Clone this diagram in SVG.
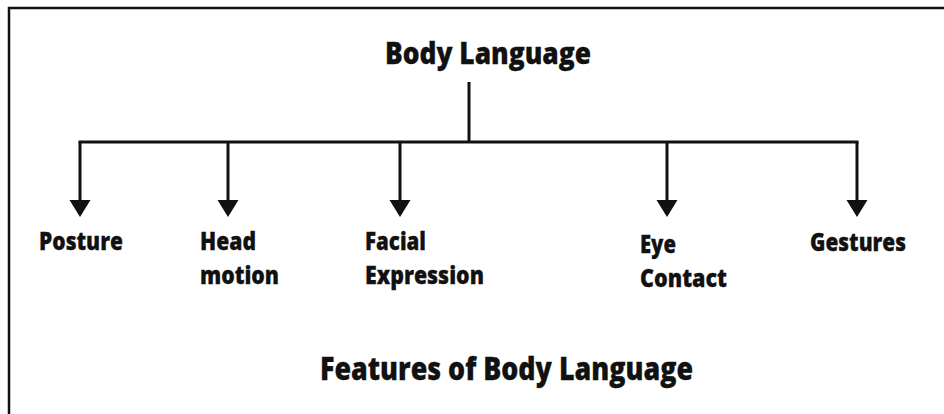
<svg xmlns="http://www.w3.org/2000/svg" width="944" height="414" viewBox="0 0 944 414">
<style>
  text { font-family: "Open Sans", "Noto Sans", "Liberation Sans", sans-serif; font-weight: 800; fill: #111; stroke: #111; stroke-width: 0.3; }
  .lbl { font-size: 25.5px; }
  .title { font-size: 30px; }
  .cap { font-size: 32px; }
  .ln { stroke: #111; stroke-width: 3; fill: none; }
  .head { fill: #111; }
</style>
<defs>
  <polygon id="ah" class="head" points="-10.5,0 10.5,0 0,17"/>
</defs>
<rect x="0" y="0" width="944" height="414" fill="#fff"/>
<rect x="9" y="8" width="960" height="430" fill="none" stroke="#111" stroke-width="2.5"/>

<g id="connectors">
  <line class="ln" x1="469" y1="82" x2="469" y2="142" stroke-width="2"/>
  <line class="ln" x1="78.5" y1="142" x2="858.5" y2="142"/>
  <line class="ln" x1="80" y1="142" x2="80" y2="201"/>
  <line class="ln" x1="228" y1="142" x2="228" y2="201"/>
  <line class="ln" x1="400" y1="142" x2="400" y2="201"/>
  <line class="ln" x1="667" y1="142" x2="667" y2="201"/>
  <line class="ln" x1="857" y1="142" x2="857" y2="201"/>
  <use href="#ah" x="80" y="200"/>
  <use href="#ah" x="228" y="200"/>
  <use href="#ah" x="400" y="200"/>
  <use href="#ah" x="667" y="200"/>
  <use href="#ah" x="857" y="200"/>
</g>

<g id="root">
  <text class="title" x="385" y="63.5" textLength="206" lengthAdjust="spacingAndGlyphs">Body Language</text>
</g>
<g id="posture">
  <text class="lbl" x="39" y="249.5" textLength="84" lengthAdjust="spacingAndGlyphs">Posture</text>
</g>
<g id="head-motion">
  <text class="lbl" x="200" y="249.5" textLength="56" lengthAdjust="spacingAndGlyphs">Head</text>
  <text class="lbl" x="200" y="283.5" textLength="79" lengthAdjust="spacingAndGlyphs">motion</text>
</g>
<g id="facial-expression">
  <text class="lbl" x="365" y="249.5" textLength="61" lengthAdjust="spacingAndGlyphs">Facial</text>
  <text class="lbl" x="365" y="283.5" textLength="119" lengthAdjust="spacingAndGlyphs">Expression</text>
</g>
<g id="eye-contact">
  <text class="lbl" x="640" y="253" textLength="36" lengthAdjust="spacingAndGlyphs">Eye</text>
  <text class="lbl" x="640" y="287" textLength="87" lengthAdjust="spacingAndGlyphs">Contact</text>
</g>
<g id="gestures">
  <text class="lbl" x="810" y="251" textLength="96" lengthAdjust="spacingAndGlyphs">Gestures</text>
</g>
<g id="caption">
  <text class="cap" x="320" y="380" textLength="373" lengthAdjust="spacingAndGlyphs">Features of Body Language</text>
</g>
</svg>
